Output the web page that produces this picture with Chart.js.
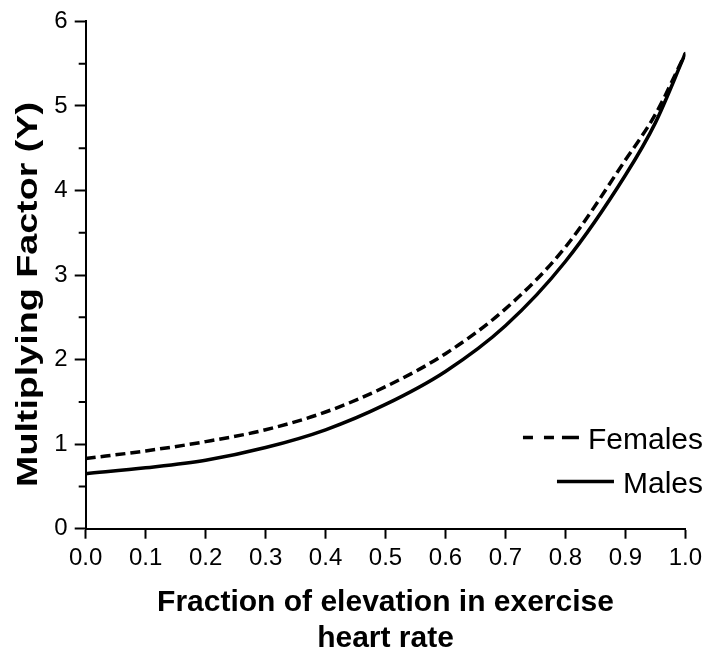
<!DOCTYPE html>
<html>
<head>
<meta charset="utf-8">
<script src="https://cdn.jsdelivr.net/npm/chart.js@4/dist/chart.umd.min.js"></script>
<style>
  html, body { margin: 0; padding: 0; background: #ffffff; }
  #wrap { width: 707px; height: 657px; }
</style>
</head>
<body>
<div id="wrap"><canvas id="c" width="707" height="657"></canvas></div>
<script>
// ---- data ----
const xValues  = [0.0, 0.1, 0.2, 0.3, 0.4, 0.5, 0.6, 0.7, 0.8, 0.9, 0.95, 1.0];
const femalesY = [0.83, 0.92, 1.03, 1.17, 1.38, 1.68, 2.07, 2.60, 3.33, 4.36, 4.90, 5.62];
const malesY   = [0.65, 0.72, 0.81, 0.96, 1.17, 1.47, 1.86, 2.40, 3.16, 4.18, 4.80, 5.62];
const xTickValues = [0.0, 0.1, 0.2, 0.3, 0.4, 0.5, 0.6, 0.7, 0.8, 0.9, 1.0];
const xTickLabels = ['0.0', '0.1', '0.2', '0.3', '0.4', '0.5', '0.6', '0.7', '0.8', '0.9', '1.0'];
const yTickValues = [0, 1, 2, 3, 4, 5, 6];
const yMinorTicks = [0.5, 1.5, 2.5, 3.5, 4.5, 5.5];
const seriesLabels = ['Females', 'Males'];
const yTitle = 'Multiplying Factor (Y)';
const xTitle = ['Fraction of elevation in exercise', 'heart rate'];

const FONT = "'Liberation Sans', Arial, Helvetica, sans-serif";
Chart.defaults.font.family = FONT;
Chart.defaults.color = '#000';

const minorTicks = {
  id: 'minorTicks',
  afterDraw(chart) {
    const ys = chart.scales.y;
    const ctx = chart.ctx;
    ctx.save();
    ctx.strokeStyle = '#000';
    ctx.lineWidth = 2;
    ctx.beginPath();
    yMinorTicks.forEach(v => {
      const p = ys.getPixelForValue(v);
      ctx.moveTo(ys.right - 7, p);
      ctx.lineTo(ys.right, p);
    });
    ctx.stroke();
    ctx.restore();
  }
};

// y-axis title: the reference lettering is elongated along the text direction
const yAxisTitle = {
  id: 'yAxisTitle',
  afterDraw(chart) {
    const ctx = chart.ctx;
    ctx.save();
    ctx.font = 'bold 29px ' + FONT;
    ctx.fillStyle = '#000';
    const w = ctx.measureText(yTitle).width;
    const targetLen = 385;
    ctx.translate(37, 294.5);
    ctx.rotate(-Math.PI / 2);
    ctx.scale(targetLen / w, 1);
    ctx.textAlign = 'center';
    ctx.textBaseline = 'alphabetic';
    ctx.fillText(yTitle, 0, 0);
    ctx.restore();
  }
};

const insideLegend = {
  id: 'insideLegend',
  afterDraw(chart) {
    const ctx = chart.ctx;
    const ds = chart.data.datasets;
    const rightEdge = 703;
    const baselines = [449, 493];
    const lineLens = [56, 57];
    ctx.save();
    ctx.font = '30px ' + FONT;
    ctx.fillStyle = '#000';
    ctx.strokeStyle = '#000';
    ctx.textAlign = 'left';
    ctx.textBaseline = 'alphabetic';
    ds.forEach((d, i) => {
      const w = ctx.measureText(d.label).width;
      const tx = rightEdge - w;
      ctx.fillText(d.label, tx, baselines[i]);
      const ly = baselines[i] - 11.5;
      const x2 = tx - 9;
      const x1 = x2 - lineLens[i];
      ctx.lineWidth = 3.5;
      ctx.lineCap = 'butt';
      if (d.borderDash && d.borderDash.length) {
        const segs = [[0, 10], [21, 31], [39, 56]];
        ctx.beginPath();
        segs.forEach(s => { ctx.moveTo(x1 + s[0], ly); ctx.lineTo(x1 + s[1], ly); });
        ctx.stroke();
      } else {
        ctx.beginPath();
        ctx.moveTo(x1, ly);
        ctx.lineTo(x2, ly);
        ctx.stroke();
      }
    });
    ctx.restore();
  }
};

new Chart(document.getElementById('c'), {
  type: 'line',
  data: {
    datasets: [
      {
        label: seriesLabels[0],
        data: xValues.map((x, i) => ({ x: x, y: femalesY[i] })),
        borderColor: '#000',
        backgroundColor: '#000',
        borderWidth: 3.5,
        borderDash: [10, 5],
        borderCapStyle: 'butt',
        pointRadius: 0,
        cubicInterpolationMode: 'monotone',
        fill: false
      },
      {
        label: seriesLabels[1],
        data: xValues.map((x, i) => ({ x: x, y: malesY[i] })),
        borderColor: '#000',
        backgroundColor: '#000',
        borderWidth: 3.5,
        borderCapStyle: 'round',
        pointRadius: 0,
        cubicInterpolationMode: 'monotone',
        fill: false
      }
    ]
  },
  options: {
    responsive: false,
    animation: false,
    devicePixelRatio: 1,
    layout: { padding: { top: 20.7, right: 19, bottom: 0, left: 0 } },
    plugins: {
      legend: { display: false },
      tooltip: { enabled: false }
    },
    scales: {
      x: {
        type: 'linear',
        min: 0,
        max: 1,
        afterBuildTicks: s => { s.ticks = xTickValues.map(v => ({ value: v })); },
        afterFit: s => { s.height = 128.3; },
        ticks: {
          callback: (v, i) => xTickLabels[i],
          font: { size: 24 },
          color: '#000',
          padding: 5,
          maxRotation: 0,
          autoSkip: false
        },
        grid: { drawOnChartArea: false, drawTicks: true, tickLength: 10, tickColor: '#000', tickWidth: 2 },
        border: { display: true, color: '#000', width: 2 },
        title: {
          display: true,
          text: xTitle,
          font: { size: 30, weight: 'bold', lineHeight: 1.2 },
          color: '#000',
          padding: { top: 0, bottom: 0 }
        }
      },
      y: {
        type: 'linear',
        min: 0,
        max: 6,
        afterBuildTicks: s => { s.ticks = yTickValues.map(v => ({ value: v })); },
        afterFit: s => { s.width = 85.7; },
        ticks: {
          callback: v => String(v),
          font: { size: 24 },
          color: '#000',
          padding: 7
        },
        grid: { drawOnChartArea: false, drawTicks: true, tickLength: 11, tickColor: '#000', tickWidth: 2 },
        border: { display: true, color: '#000', width: 2 },
        title: { display: false }
      }
    }
  },
  plugins: [minorTicks, yAxisTitle, insideLegend]
});
</script>
</body>
</html>
